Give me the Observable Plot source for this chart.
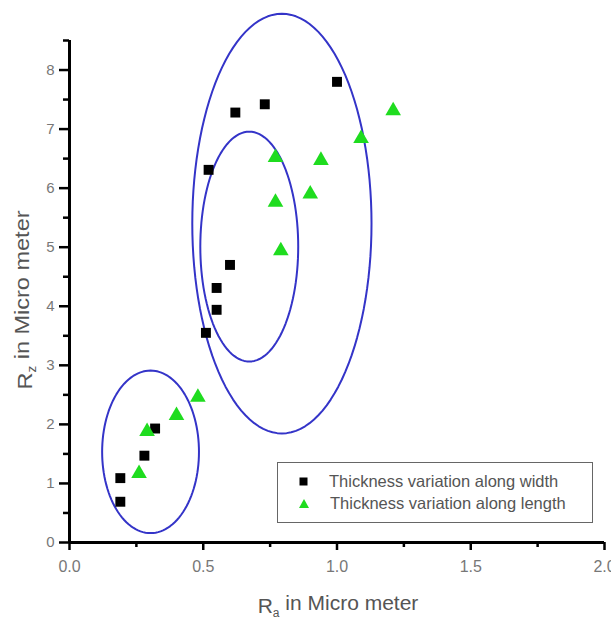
<!DOCTYPE html>
<html>
<head>
<meta charset="utf-8">
<script src="https://cdn.jsdelivr.net/npm/d3@7"></script>
<script src="https://cdn.jsdelivr.net/npm/@observablehq/plot@0.6"></script>
<style>
  body { margin: 0; background: #fff; }
  #wrap { position: relative; width: 611px; height: 621px; font-family: Arial, "Liberation Sans", sans-serif; }
  #legend { position: absolute; left: 277px; top: 462px; width: 316px; height: 61px; border: 1px solid #666; box-sizing: border-box; background: #fff; }
  .row { position: absolute; left: 0; height: 20px; display: flex; align-items: center; font-size: 16.5px; color: #555; white-space: nowrap; }
  .row svg { margin-left: 21px; margin-right: 21px; }
</style>
</head>
<body>
<div id="wrap"></div>
<script>
// Series: Thickness variation along width (squares)
const widthRa = [0.19, 0.19, 0.28, 0.32, 0.51, 0.55, 0.55, 0.60, 0.52, 0.62, 0.73, 1.00];
const widthRz = [0.69, 1.09, 1.47, 1.93, 3.55, 3.94, 4.31, 4.70, 6.31, 7.28, 7.42, 7.80];
// Series: Thickness variation along length (triangles)
const lengthRa = [0.26, 0.29, 0.40, 0.48, 0.77, 0.77, 0.79, 0.90, 0.94, 1.09, 1.21];
const lengthRz = [1.17, 1.88, 2.15, 2.46, 6.52, 5.76, 4.94, 5.90, 6.47, 6.84, 7.31];
// Series names
const seriesNames = ["Thickness variation along width", "Thickness variation along length"];
// Cluster ellipses (center Ra, center Rz, radius Ra, radius Rz)
const ellipseCx = [0.303, 0.672, 0.794];
const ellipseCy = [1.535, 5.01, 5.40];
const ellipseRx = [0.181, 0.183, 0.335];
const ellipseRy = [1.376, 1.946, 3.553];
// Tick labels
const xTicks = [0, 0.5, 1.0, 1.5, 2.0];
const xMinor = [0.25, 0.75, 1.25, 1.75];
const yTicks = [0, 1, 2, 3, 4, 5, 6, 7, 8];
const yMinor = [0.5, 1.5, 2.5, 3.5, 4.5, 5.5, 6.5, 7.5, 8.5];

const widthData = widthRa.map((x, i) => ({x, y: widthRz[i]}));
const lengthData = lengthRa.map((x, i) => ({x, y: lengthRz[i]}));
const ellipsePts = [];
ellipseCx.forEach((cx, k) => {
  for (let i = 0; i <= 120; i++) {
    const t = (i / 120) * 2 * Math.PI;
    ellipsePts.push({id: k, x: cx + ellipseRx[k] * Math.cos(t), y: ellipseCy[k] + ellipseRy[k] * Math.sin(t)});
  }
});

const green = "#1fdc1f";
const blue = "#3434c8";

const svg = Plot.plot({
  width: 611,
  height: 621,
  marginLeft: 69,
  marginRight: 7,
  marginTop: 40,
  marginBottom: 79,
  style: {fontFamily: 'Arial, "Liberation Sans", sans-serif', background: "#fff"},
  x: {domain: [0, 2]},
  y: {domain: [0, 8.5]},
  marks: [
    Plot.line(ellipsePts, {x: "x", y: "y", z: "id", stroke: blue, strokeWidth: 2}),
    Plot.dot(widthData, {x: "x", y: "y", symbol: "square", fill: "black", r: 5.6}),
    Plot.dot(lengthData, {x: "x", y: "y", symbol: "triangle", fill: green, r: 5.8}),
    Plot.axisX({ticks: xTicks, tickSize: 8, text: null, stroke: "black", strokeWidth: 2.5, label: null}),
    Plot.axisX({ticks: xMinor, tickSize: 5, text: null, stroke: "black", strokeWidth: 2.5, label: null}),
    Plot.axisX({ticks: xTicks, tickSize: 0, tickPadding: 18, tickFormat: d => d.toFixed(1), fill: "#777", fontSize: 16, label: null}),
    Plot.axisY({ticks: yTicks, tickSize: 10, text: null, stroke: "black", strokeWidth: 2.5, label: null}),
    Plot.axisY({ticks: yMinor, tickSize: 6, text: null, stroke: "black", strokeWidth: 2.5, label: null}),
    Plot.axisY({ticks: yTicks, tickSize: 0, tickPadding: 15, fill: "#777", fontSize: 15, label: null}),
    Plot.ruleX([0], {stroke: "black", strokeWidth: 3}),
    Plot.ruleY([0], {stroke: "black", strokeWidth: 3})
  ]
});

const s = d3.select(svg);
// x axis title
const xt = s.append("text").attr("x", 338).attr("y", 613).attr("text-anchor", "middle")
  .attr("fill", "#555").attr("font-size", 21);
xt.append("tspan").text("R");
xt.append("tspan").attr("font-size", 12).attr("dy", "0.35em").text("a");
xt.append("tspan").attr("dy", "-0.35em").text(" in Micro meter");
// y axis title
const yt = s.append("text").attr("transform", "translate(32,300) rotate(-90) scale(1.12,1)").attr("text-anchor", "middle")
  .attr("fill", "#555").attr("font-size", 21);
yt.append("tspan").text("R");
yt.append("tspan").attr("font-size", 12).attr("dy", "0.35em").text("z");
yt.append("tspan").attr("dy", "-0.35em").text(" in Micro meter");

const wrap = document.getElementById("wrap");
wrap.appendChild(svg);

// legend
const legend = document.createElement("div");
legend.id = "legend";
const sq = '<svg width="9" height="9"><rect x="0.5" y="0.5" width="8" height="8" fill="black"/></svg>';
const tri = '<svg width="10" height="9"><polygon points="5,0 10,9 0,9" fill="' + green + '"/></svg>';
legend.innerHTML =
  '<div class="row" style="top:8px">' + sq + '<span>' + seriesNames[0] + '</span></div>' +
  '<div class="row" style="top:30px">' + tri + '<span>' + seriesNames[1] + '</span></div>';
wrap.appendChild(legend);
</script>
</body>
</html>
